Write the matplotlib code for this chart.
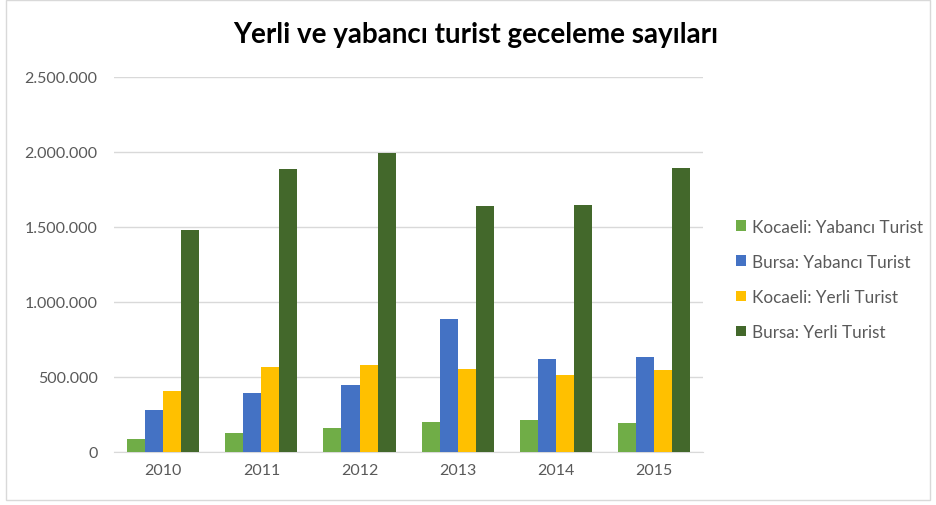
import numpy as np
import matplotlib
matplotlib.use('Agg')
import matplotlib.pyplot as plt
from matplotlib.ticker import FuncFormatter
from matplotlib.patches import Rectangle

years = ['2010', '2011', '2012', '2013', '2014', '2015']
kocaeli_yabanci = [84000, 127000, 160000, 202000, 213000, 193000]
bursa_yabanci = [277000, 395000, 449000, 887000, 620000, 631000]
kocaeli_yerli = [404000, 567000, 577000, 555000, 513000, 547000]
bursa_yerli = [1477000, 1884000, 1991000, 1637000, 1647000, 1893000]

seriler = [kocaeli_yabanci, bursa_yabanci, kocaeli_yerli, bursa_yerli]
isimler = ['Kocaeli: Yabancı Turist', 'Bursa: Yabancı Turist',
           'Kocaeli: Yerli Turist', 'Bursa: Yerli Turist']
renkler = ['#70ad47', '#4472c4', '#ffc000', '#43682b']

plt.rcParams['font.family'] = ['Lato', 'DejaVu Sans']

fig = plt.figure(figsize=(9.36, 5.06), dpi=100)
ax = fig.add_axes([0.122, 0.105, 0.629, 0.741])

# dis cerceve
fig.patches.append(Rectangle((0.006, 0.010), 0.988, 0.989, transform=fig.transFigure,
                             fill=False, edgecolor='#d9d9d9', linewidth=1))

x = np.arange(len(years))
w = 0.184
for i, (vals, ad, renk) in enumerate(zip(seriler, isimler, renkler)):
    ax.bar(x + (i - 1.5) * w, vals, width=w, color=renk, label=ad, zorder=3)

ax.set_xlim(-0.5, len(years) - 0.5)
ax.set_ylim(0, 2500000)
ax.set_yticks(np.arange(0, 2500001, 500000))
ax.yaxis.set_major_formatter(FuncFormatter(lambda v, p: '{:,.0f}'.format(v).replace(',', '.')))
ax.set_xticks(x)
ax.set_xticklabels(years)
ax.grid(axis='y', color='#d9d9d9', linewidth=1, zorder=0)
for s in ['top', 'right', 'left']:
    ax.spines[s].set_visible(False)
ax.spines['bottom'].set_color('#d9d9d9')
ax.tick_params(axis='both', length=0, colors='#595959', labelsize=11.5)
ax.tick_params(axis='y', pad=12)
ax.tick_params(axis='x', pad=8)

fig.text(0.508, 0.93, 'Yerli ve yabancı turist geceleme sayıları', ha='center', va='center',
         fontsize=20, fontweight='bold', color='black')

ax.legend(loc='center left', bbox_to_anchor=(1.03, 0.46), frameon=False, fontsize=12.3,
          handlelength=0.6, handleheight=0.6, handletextpad=0.35, labelspacing=1.12,
          labelcolor='#595959')

fig.savefig('out.png', dpi=100)
